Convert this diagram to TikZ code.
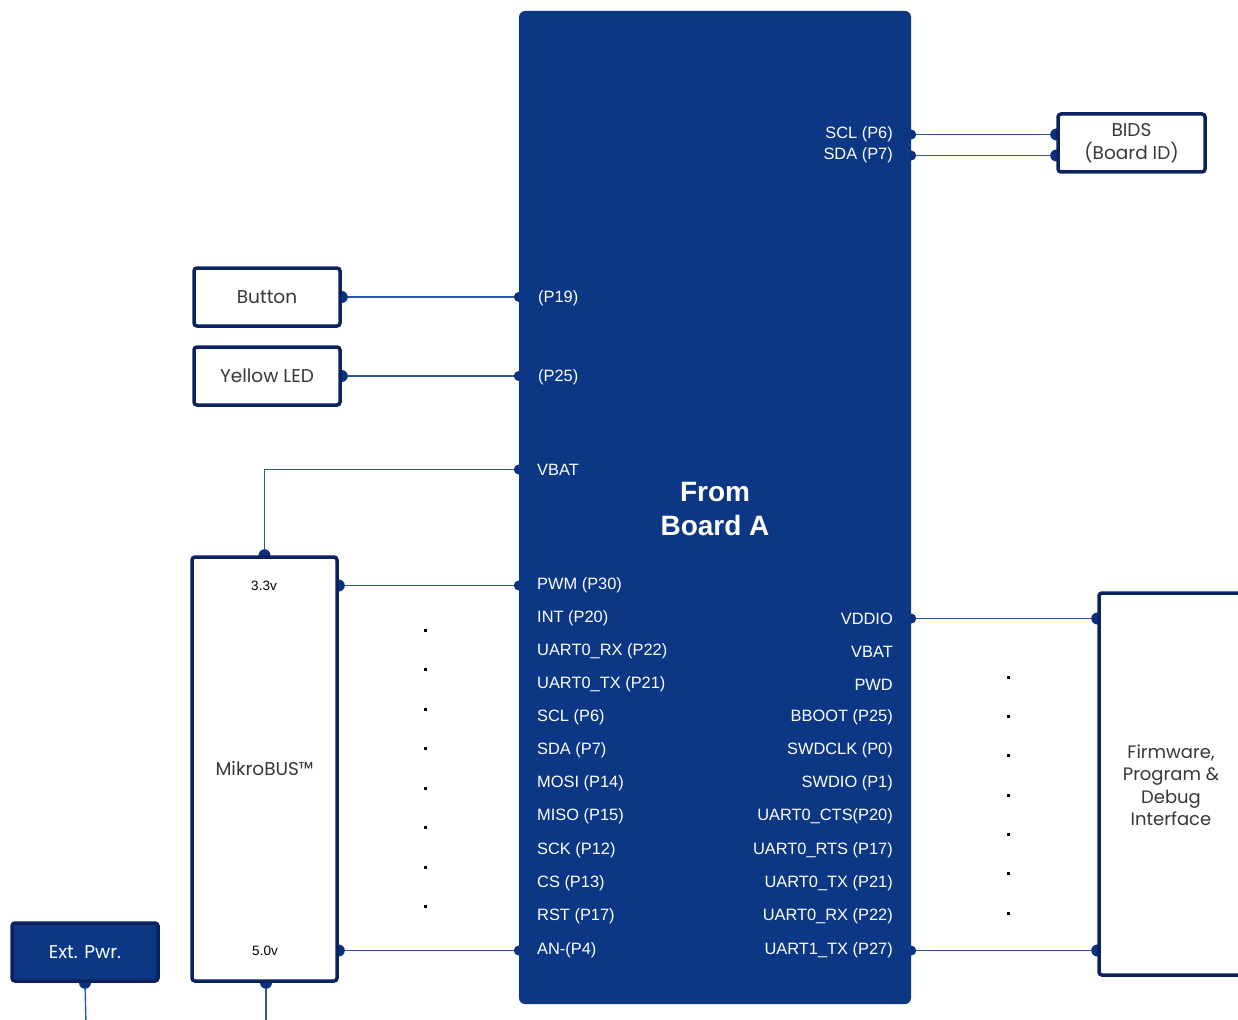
\documentclass[tikz,border=0pt]{standalone}
\usepackage{fontspec}
\setmainfont{Liberation Sans}
\newfontfamily\geo{Poppins}
\usetikzlibrary{backgrounds}
\definecolor{blk}{RGB}{11,55,133}
\definecolor{edge}{RGB}{12,34,94}
\definecolor{wire}{RGB}{45,88,165}
\definecolor{dotc}{RGB}{10,48,128}
\definecolor{gtext}{RGB}{55,55,60}
\begin{document}
\begin{tikzpicture}[x=1pt,y=-1pt,
  box/.style={draw=edge, line width=3.5pt, fill=white, rounded corners=3pt, inner sep=0pt,
    font=\geo\fontsize{18.5}{23}\selectfont, text=gtext, align=center},
  pinl/.style={anchor=west, text=white, font=\fontsize{16.4}{19}\selectfont, inner sep=0pt, yshift=-1.5pt},
  pinr/.style={anchor=east, text=white, font=\fontsize{16.4}{19}\selectfont, inner sep=0pt, yshift=-1.5pt},
  wirel/.style={draw=wire, line width=1.4pt},
  pdot/.style={fill=dotc},
  sdot/.style={fill=black, minimum size=3pt, inner sep=0pt}
]
\useasboundingbox (0,0) rectangle (1238,1019);
\clip (0,0) rectangle (1238,1019);

% main block
\node[fill=blk, rounded corners=6pt, minimum width=392pt, minimum height=993pt, inner sep=0pt] (main) at (715,507.5) {};
\node[font=\bfseries\fontsize{28}{34}\selectfont, text=white, align=center] (title) at (715,509) {From\\Board A};

% left pin labels
\node[pinl] (lP19) at (538,297) {(P19)};
\node[pinl] (lP25) at (538,376) {(P25)};
\node[pinl] (lVBAT) at (537,468) {VBAT};
\node[pinl] (lPWM) at (537,584) {PWM (P30)};
\node[pinl] (lINT) at (537,617) {INT (P20)};
\node[pinl] (lRX) at (537,650) {UART0\_RX (P22)};
\node[pinl] (lTX) at (537,683) {UART0\_TX (P21)};
\node[pinl] (lSCL) at (537,716) {SCL (P6)};
\node[pinl] (lSDA) at (537,749) {SDA (P7)};
\node[pinl] (lMOSI) at (537,782) {MOSI (P14)};
\node[pinl] (lMISO) at (537,815) {MISO (P15)};
\node[pinl] (lSCK) at (537,849) {SCK (P12)};
\node[pinl] (lCS) at (537,882) {CS (P13)};
\node[pinl] (lRST) at (537,915) {RST (P17)};
\node[pinl] (lAN) at (537,949) {AN-(P4)};

% right pin labels
\node[pinr] (rSCL) at (893,133) {SCL (P6)};
\node[pinr] (rSDA) at (893,154) {SDA (P7)};
\node[pinr] (rVDDIO) at (893,617) {VDDIO};
\node[pinr] (rVBAT) at (893,650) {VBAT};
\node[pinr] (rPWD) at (893,683) {PWD};
\node[pinr] (rBBOOT) at (893,716) {BBOOT (P25)};
\node[pinr] (rSWDCLK) at (893,749) {SWDCLK (P0)};
\node[pinr] (rSWDIO) at (893,782) {SWDIO (P1)};
\node[pinr] (rCTS) at (893,815) {UART0\_CTS(P20)};
\node[pinr] (rRTS) at (893,849) {UART0\_RTS (P17)};
\node[pinr] (rTX) at (893,882) {UART0\_TX (P21)};
\node[pinr] (rRX) at (893,915) {UART0\_RX (P22)};
\node[pinr] (rTX1) at (893,949) {UART1\_TX (P27)};

% peripheral boxes
\node[box, minimum width=147pt, minimum height=58pt] (bids) at (1131.5,143) {BIDS\\(Board ID)};
\node[box, minimum width=146pt, minimum height=58pt] (button) at (267,297) {Button};
\node[box, minimum width=146pt, minimum height=58pt] (led) at (267,376) {Yellow LED};
\node[box, minimum width=145pt, minimum height=424pt] (mikro) at (264.5,769) {MikroBUS™};
\node[font=\fontsize{13.5}{16}\selectfont] (v33) at (264,586) {3.3v};
\node[font=\fontsize{13.5}{16}\selectfont] (v50) at (265,951) {5.0v};
\node[box, fill=blk, text=white, minimum width=146pt, minimum height=58pt] (ext) at (85,952) {Ext. Pwr.};
\node[box, minimum width=170pt, minimum height=382pt] (fw) at (1184,784) {};
\node[font=\geo\fontsize{18}{22.5}\selectfont, text=gtext, align=center] (fwtext) at (1171,785) {Firmware,\\Program \&\\Debug\\Interface};

\coordinate (extEnd) at (86,1025);
\coordinate (mikEnd) at (266,1025);

% dotted columns
\foreach \y in {630,669.5,709,748.5,788,827.5,867,906.5}
  \node[sdot] at (425,\y) {};
\foreach \y in {677,716.3,755.6,795,834.3,873.6,913}
  \node[sdot] at (1008,\y) {};

% connectors
\begin{scope}[on background layer]
  \draw[wirel] (rSCL -| main.east) -- (rSCL -| bids.west);
  \draw[wirel] (rSDA -| main.east) -- (rSDA -| bids.west);
  \fill[pdot] (rSCL -| main.east) circle (5pt) (rSCL -| bids.west) circle (6pt);
  \fill[pdot] (rSDA -| main.east) circle (5pt) (rSDA -| bids.west) circle (6pt);

  \draw[wirel] (button.east) -- (button.east -| main.west);
  \fill[pdot] (button.east) circle (6pt) (button.east -| main.west) circle (5pt);
  \draw[wirel] (led.east) -- (led.east -| main.west);
  \fill[pdot] (led.east) circle (6pt) (led.east -| main.west) circle (5pt);

  \draw[wirel] (lVBAT -| main.west) -| (mikro.north);
  \fill[pdot] (lVBAT -| main.west) circle (5pt) (mikro.north) circle (6pt);

  \draw[wirel] (lPWM -| mikro.east) -- (lPWM -| main.west);
  \fill[pdot] (lPWM -| mikro.east) circle (6pt) (lPWM -| main.west) circle (5pt);
  \draw[wirel] (lAN -| mikro.east) -- (lAN -| main.west);
  \fill[pdot] (lAN -| mikro.east) circle (6pt) (lAN -| main.west) circle (5pt);

  \draw[wirel] (rVDDIO -| main.east) -- (rVDDIO -| fw.west);
  \fill[pdot] (rVDDIO -| main.east) circle (5pt) (rVDDIO -| fw.west) circle (6pt);
  \draw[wirel] (rTX1 -| main.east) -- (rTX1 -| fw.west);
  \fill[pdot] (rTX1 -| main.east) circle (5pt) (rTX1 -| fw.west) circle (6pt);

  \draw[wirel] (ext.south) -- (extEnd);
  \fill[pdot] (ext.south) circle (6pt);
  \draw[wirel] (mikro.south -| mikEnd) -- (mikEnd);
  \fill[pdot] (mikro.south -| mikEnd) circle (6pt);
\end{scope}
\end{tikzpicture}
\end{document}
